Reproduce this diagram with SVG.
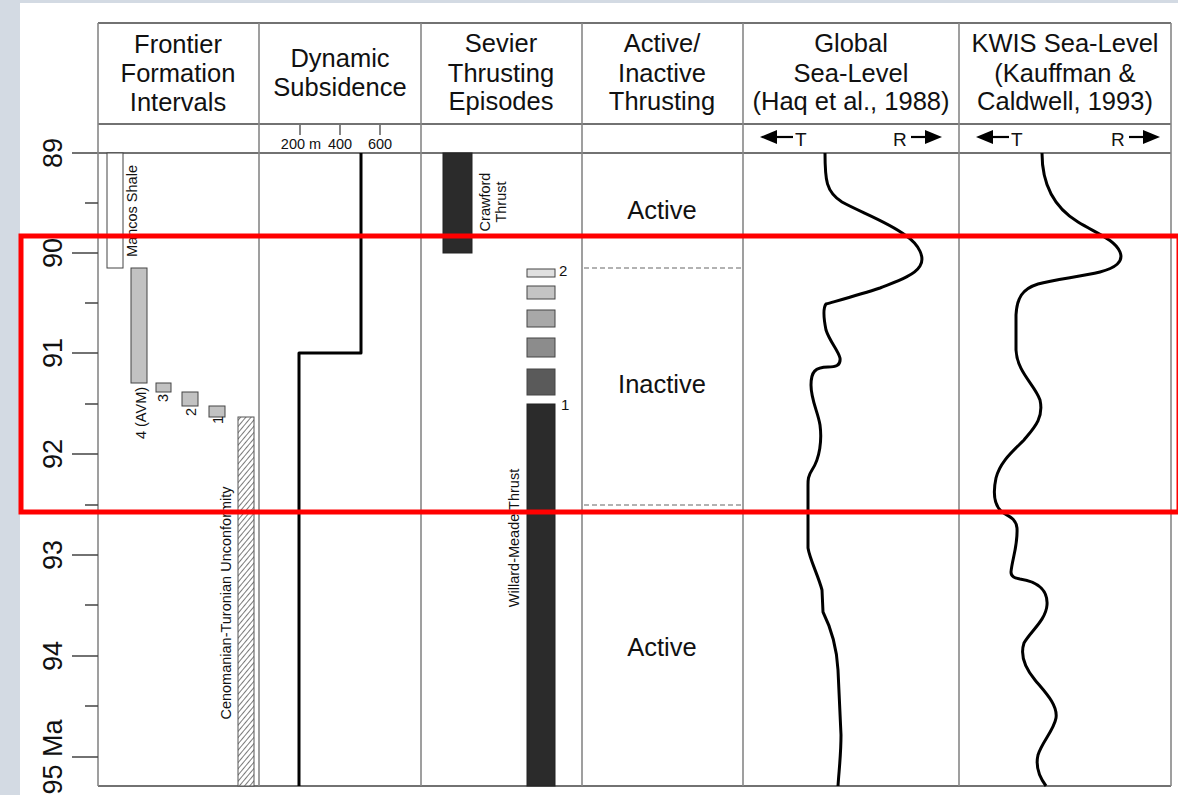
<svg xmlns="http://www.w3.org/2000/svg" width="1178" height="795" viewBox="0 0 1178 795">
<style>
text{font-family:"Liberation Sans",Arial,sans-serif;fill:#111}
.hd{font-size:25.5px;text-anchor:middle}
.ax{font-size:27px;text-anchor:middle}
.sm{font-size:14.5px;text-anchor:middle}
.st{font-size:25.5px;text-anchor:middle}
.tr{font-size:19px}
.hl{stroke:#444;stroke-width:1.3;fill:none}
.vl{stroke:#888;stroke-width:1.6;fill:none}
.tk{stroke:#444;stroke-width:1.3}
.cv{stroke:#000;stroke-width:3;fill:none;stroke-linejoin:round}
.bx{stroke:#444;stroke-width:1}
.sh{stroke:#000;stroke-width:2.2}
</style>
<defs>
<pattern id="hatch" width="4" height="4" patternUnits="userSpaceOnUse" patternTransform="rotate(40)">
<rect width="4" height="4" fill="#fff"/>
<line x1="0" y1="0" x2="0" y2="4" stroke="#333" stroke-width="1.3"/>
</pattern>
</defs>
<rect width="1178" height="795" fill="#d3dae3"/>
<rect x="20" y="3" width="1158" height="792" fill="#fff"/>

<g id="table">
<path class="hl" d="M98,23 H1171 M98,124 H1171 M72,153 H1171 M98,786 H1171"/>
<path class="vl" d="M98,23 V786 M259,23 V786 M421,23 V786 M582,23 V786 M743,23 V786 M959,23 V786 M1171,23 V786"/>
</g>

<g id="headers">
<text class="hd" x="178" y="53">Frontier</text>
<text class="hd" x="178" y="82">Formation</text>
<text class="hd" x="178" y="111">Intervals</text>
<text class="hd" x="340" y="67">Dynamic</text>
<text class="hd" x="340" y="96">Subsidence</text>
<text class="hd" x="501" y="52">Sevier</text>
<text class="hd" x="501" y="82">Thrusting</text>
<text class="hd" x="501" y="110">Episodes</text>
<text class="hd" x="662" y="52">Active/</text>
<text class="hd" x="662" y="82">Inactive</text>
<text class="hd" x="662" y="110">Thrusting</text>
<text class="hd" x="851" y="52">Global</text>
<text class="hd" x="851" y="82">Sea-Level</text>
<text class="hd" x="851" y="110">(Haq et al., 1988)</text>
<text class="hd" x="1065" y="52">KWIS Sea-Level</text>
<text class="hd" x="1065" y="82">(Kauffman &amp;</text>
<text class="hd" x="1065" y="110">Caldwell, 1993)</text>
</g>

<g id="scale">
<path class="tk" d="M300,125 V135 M340,125 V135 M380,125 V135"/>
<text class="sm" x="301" y="149">200 m</text>
<text class="sm" x="340" y="149">400</text>
<text class="sm" x="380" y="149">600</text>
<line class="sh" x1="777" y1="137" x2="793" y2="137"/>
<path d="M760,137 L777,130 L777,144 z" fill="#000"/>
<text class="tr" x="795" y="146">T</text>
<text class="tr" x="893" y="146">R</text>
<line class="sh" x1="911" y1="137" x2="926" y2="137"/>
<path d="M942,137 L925,130 L925,144 z" fill="#000"/>
<line class="sh" x1="993" y1="137" x2="1009" y2="137"/>
<path d="M976,137 L993,130 L993,144 z" fill="#000"/>
<text class="tr" x="1011" y="146">T</text>
<text class="tr" x="1111" y="146">R</text>
<line class="sh" x1="1129" y1="137" x2="1144" y2="137"/>
<path d="M1160,137 L1143,130 L1143,144 z" fill="#000"/>
</g>

<g id="age-axis">
<path class="tk" d="M72,253 H98 M72,353 H98 M72,454 H98 M72,555 H98 M72,656 H98 M72,757 H98 M85,203 H98 M85,303 H98 M85,404 H98 M85,505 H98 M85,605 H98 M85,706 H98"/>
<text class="ax" transform="translate(62,153) rotate(-90)">89</text>
<text class="ax" transform="translate(62,253) rotate(-90)">90</text>
<text class="ax" transform="translate(62,353) rotate(-90)">91</text>
<text class="ax" transform="translate(62,454) rotate(-90)">92</text>
<text class="ax" transform="translate(62,555) rotate(-90)">93</text>
<text class="ax" transform="translate(62,656) rotate(-90)">94</text>
<text class="ax" transform="translate(62,757) rotate(-90)">95 Ma</text>
</g>

<g id="frontier">
<rect class="bx" x="107" y="153" width="16" height="115" fill="#fff"/>
<text class="sm" transform="translate(137,211) rotate(-90)">Mancos Shale</text>
<rect class="bx" x="131" y="268" width="16" height="115" fill="#c2c2c2"/>
<text class="sm" transform="translate(146,413) rotate(-90)">4 (AVM)</text>
<rect class="bx" x="156" y="383" width="15" height="9" fill="#c2c2c2"/>
<text class="sm" transform="translate(168,398) rotate(-90)">3</text>
<rect class="bx" x="182" y="392" width="16" height="14" fill="#c2c2c2"/>
<text class="sm" transform="translate(196,412) rotate(-90)">2</text>
<rect class="bx" x="209" y="406" width="16" height="11" fill="#c2c2c2"/>
<text class="sm" transform="translate(223,420) rotate(-90)">1</text>
<rect x="238" y="417" width="16" height="369" fill="url(#hatch)" stroke="#555" stroke-width="1"/>
<text class="sm" transform="translate(231,603) rotate(-90)">Cenomanian-Turonian Unconformity</text>
</g>

<g id="subsidence">
<path d="M361,153 V353 H299 V786" stroke="#000" stroke-width="3" fill="none" stroke-linejoin="round"/>
</g>

<g id="sevier">
<rect x="443" y="153" width="29" height="100" fill="#2b2b2b" stroke="#222"/>
<text class="sm" transform="translate(490,202) rotate(-90)">Crawford</text>
<text class="sm" transform="translate(506,202) rotate(-90)">Thrust</text>
<rect class="bx" x="527" y="269" width="28" height="8" fill="#e0e0e0"/>
<rect class="bx" x="527" y="286" width="28" height="13" fill="#c4c4c4"/>
<rect class="bx" x="527" y="310" width="28" height="17" fill="#a8a8a8"/>
<rect class="bx" x="527" y="338" width="28" height="19" fill="#8c8c8c"/>
<rect class="bx" x="527" y="369" width="28" height="26" fill="#5a5a5a"/>
<rect x="527" y="404" width="28" height="382" fill="#2b2b2b" stroke="#222"/>
<text x="559" y="276" style="font-size:15px">2</text>
<text x="561" y="410" style="font-size:15px">1</text>
<text class="sm" transform="translate(519,538) rotate(-90)">Willard-Meade Thrust</text>
</g>

<g id="thrusting">
<path d="M584,268 H743 M584,505 H743" stroke="#666" stroke-width="1.2" stroke-dasharray="5,3"/>
<text class="st" x="662" y="219">Active</text>
<text class="st" x="662" y="393">Inactive</text>
<text class="st" x="662" y="656">Active</text>
</g>

<g id="connectors">
<path class="cv" d="M825,153 C825,180 826,192 842,202 C860,212 888,222 905,235 C920,245 925,258 920,266 C914,276 895,282 880,288 C862,294 840,300 826,304 C823,308 824,320 826,330 C830,342 838,350 840,358 C841,366 835,367 828,367 C815,367 811,372 811,385 C811,400 818,412 820,425 C822,440 820,458 812,470 C808,476 808,480 808,485 L808,548 C810,560 818,575 822,590 L823,612 C832,630 837,650 838,670 L841,735 C841,755 839,770 838,786"/>
<path class="cv" d="M1042,153 C1042,185 1055,208 1078,222 C1098,234 1115,240 1120,252 C1124,262 1115,268 1100,272 C1080,277 1055,279 1038,284 C1022,289 1017,298 1016,315 L1016,350 C1017,372 1035,385 1040,400 C1044,418 1034,428 1024,440 C1012,452 1000,462 996,478 C993,492 994,505 1002,512 C1008,516 1016,518 1017,528 C1018,545 1012,560 1011,572 C1011,577 1015,578 1020,579 C1040,582 1048,592 1047,605 C1046,620 1030,632 1024,643 C1020,655 1025,668 1035,680 C1045,692 1058,705 1056,718 C1054,730 1042,742 1038,755 C1035,768 1040,778 1046,786"/>
</g>

<rect x="21" y="236" width="1158" height="276" fill="none" stroke="#ff0000" stroke-width="5"/>
</svg>
